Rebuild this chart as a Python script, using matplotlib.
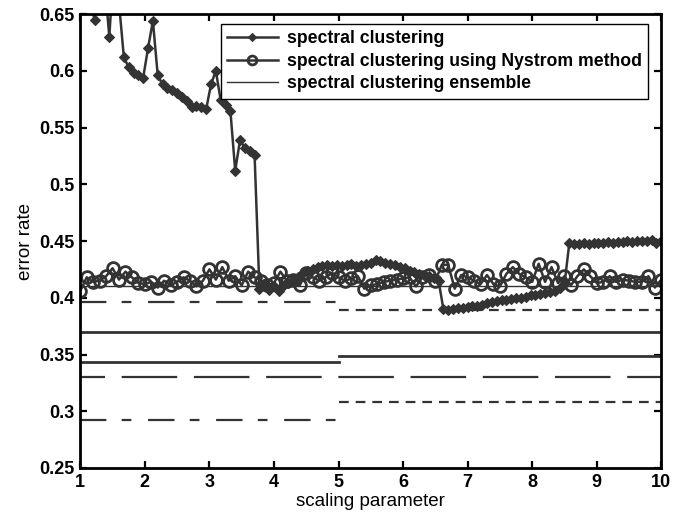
import numpy as np
import matplotlib
matplotlib.use("Agg")
import matplotlib.pyplot as plt

plt.rcParams['font.family'] = ['Liberation Sans', 'DejaVu Sans']
plt.rcParams['lines.scale_dashes'] = False

# ---- data ----
# spectral clustering (diamonds)
sc_x = np.linspace(1, 10, 121)
sc_err = [0.660, 0.670, 0.660, 0.645, 0.700, 0.680, 0.630, 0.700, 0.660, 0.612,
          0.603, 0.598, 0.596, 0.594, 0.620, 0.644, 0.596, 0.588, 0.585, 0.583,
          0.580, 0.577, 0.573, 0.568, 0.569, 0.568, 0.566, 0.588, 0.600, 0.574,
          0.570, 0.565, 0.512, 0.539, 0.532, 0.529, 0.526, 0.408, 0.412, 0.407,
          0.410, 0.406, 0.411, 0.413, 0.416, 0.418, 0.422, 0.424, 0.425, 0.427,
          0.428, 0.429, 0.428, 0.429, 0.428, 0.429, 0.430, 0.428, 0.429, 0.430,
          0.431, 0.433, 0.432, 0.431, 0.430, 0.429, 0.427, 0.426, 0.424, 0.423,
          0.421, 0.420, 0.419, 0.417, 0.415, 0.390, 0.389, 0.390, 0.391, 0.391,
          0.392, 0.393, 0.393, 0.394, 0.395, 0.396, 0.397, 0.398, 0.398, 0.399,
          0.400, 0.400, 0.401, 0.402, 0.402, 0.403, 0.404, 0.405, 0.406, 0.409,
          0.412, 0.448, 0.447, 0.447, 0.448, 0.447, 0.448, 0.448, 0.448, 0.449,
          0.448, 0.449, 0.449, 0.450, 0.449, 0.450, 0.450, 0.450, 0.451, 0.448,
          0.450]

# spectral clustering using Nystrom method (circles)
ny_x = np.linspace(1, 10, 91)
ny_err = [0.406, 0.418, 0.414, 0.415, 0.419, 0.426, 0.416, 0.423, 0.418, 0.413,
          0.412, 0.414, 0.409, 0.415, 0.411, 0.414, 0.418, 0.415, 0.410, 0.415,
          0.425, 0.416, 0.427, 0.415, 0.419, 0.411, 0.423, 0.418, 0.415, 0.411,
          0.413, 0.423, 0.415, 0.416, 0.411, 0.422, 0.418, 0.415, 0.418, 0.422,
          0.418, 0.415, 0.417, 0.419, 0.408, 0.411, 0.412, 0.414, 0.415, 0.416,
          0.417, 0.418, 0.410, 0.418, 0.420, 0.415, 0.429, 0.429, 0.408, 0.420,
          0.418, 0.415, 0.412, 0.420, 0.412, 0.410, 0.421, 0.427, 0.421, 0.418,
          0.414, 0.430, 0.414, 0.427, 0.413, 0.419, 0.411, 0.419, 0.425, 0.419,
          0.413, 0.414, 0.419, 0.414, 0.416, 0.415, 0.414, 0.414, 0.419, 0.409,
          0.416]

# spectral clustering ensemble (horizontal levels)
ens_err = [0.410, 0.396, 0.389, 0.370, 0.343, 0.349, 0.330, 0.308, 0.292]
ens_from = [1, 1, 5, 1, 1, 5, 1, 5, 1]
ens_to = [10, 5, 10, 10, 5, 10, 10, 10, 5]

DARK = "#333333"
dashdot = (0, (19, 11, 7, 12))
dashed = (0, (7, 5))
longdash = (22, (40, 12))
ens_styles = [("-", 1.0), (dashdot, 1.6), (dashed, 1.6), ("-", 2.0), ("-", 2.0),
              ("-", 2.0), (longdash, 1.6), (dashed, 1.6), (dashdot, 1.6)]

fig = plt.figure(figsize=(6.86, 5.2), dpi=100)
ax = fig.add_axes([0.117, 0.1, 0.847, 0.873])

ens_handle = None
for y, x0, x1, (ls, lw) in zip(ens_err, ens_from, ens_to, ens_styles):
    h, = ax.plot([x0, x1], [y, y], color=DARK, linestyle=ls, linewidth=lw)
    if ens_handle is None:
        ens_handle = h

ny_handle, = ax.plot(ny_x, ny_err, color=DARK, linewidth=1.8, marker="o",
                     markersize=8.5, markerfacecolor="none", markeredgewidth=2.0)
sc_handle, = ax.plot(sc_x, sc_err, color=DARK, linewidth=1.8, marker="D",
                     markersize=5.2, markerfacecolor=DARK, markeredgewidth=0.8)

ax.set_xlim(1, 10)
ax.set_ylim(0.25, 0.65)
ax.set_xticks(range(1, 11))
ax.set_yticks([0.25, 0.3, 0.35, 0.4, 0.45, 0.5, 0.55, 0.6, 0.65])
ax.set_yticklabels(["0.25", "0.3", "0.35", "0.4", "0.45", "0.5", "0.55", "0.6", "0.65"])
ax.tick_params(direction="in", length=5, width=1.6, top=True, right=True,
               labelsize=13, pad=4)
for lab in ax.get_xticklabels() + ax.get_yticklabels():
    lab.set_fontweight("bold")
for sp in ax.spines.values():
    sp.set_linewidth(2.0)

ax.set_xlabel("scaling parameter", fontsize=13.5, labelpad=2)
ax.set_ylabel("error rate", fontsize=13.5, labelpad=4)

leg = ax.legend([sc_handle, ny_handle, ens_handle],
                ["spectral clustering", "spectral clustering using Nystrom method",
                 "spectral clustering ensemble"],
                loc="upper right", bbox_to_anchor=(648 / 686, 1 - 24 / 520),
                bbox_transform=fig.transFigure, borderaxespad=0,
                fancybox=False, edgecolor="black", framealpha=1,
                prop={"weight": "bold", "size": 12.7}, handlelength=2.9,
                labelspacing=0.32, borderpad=0.35, handletextpad=0.5,
                markerscale=0.75)
leg.get_frame().set_linewidth(1.0)

fig.savefig("out.png", dpi=100)
